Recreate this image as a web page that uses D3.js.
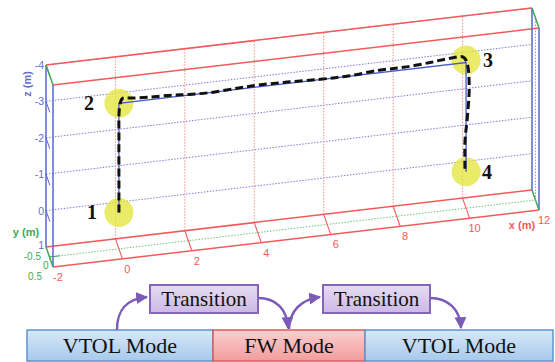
<!DOCTYPE html>
<html><head><meta charset="utf-8">
<script src="https://cdn.jsdelivr.net/npm/d3@7"></script>
<style>html,body{margin:0;padding:0;background:#fff;}svg{display:block;}</style>
</head><body>
<svg id="chart" width="555" height="362"></svg>
<script>
// ---------- data ----------
const xTicks = [-2, 0, 2, 4, 6, 8, 10, 12];
const zTicks = [-4, -3, -2, -1, 0, 1];
const yTicks = [-0.5, 0, 0.5];
const xGrid = [0, 2, 4, 6, 8, 10];
const zGrid = [-4, -3, -2, -1, 0];

// reference path (blue thin line)
const refX = [0, 0, 10, 10];
const refZ = [0, -3, -3, 0];

// measured flight path (black dashed)
const flightX = [0, 0, 0, 0.02, 0.1, 0.38, 0.9, 1.56, 2.0, 2.6, 3.4, 4.0, 4.84, 5.8, 6.6, 7.5, 8.2, 9.0, 9.54, 9.92, 10.03, 10.09, 10.03, 9.97, 9.97];
const flightZ = [0, -1, -2, -2.9, -3.12, -3.1, -3.07, -3.05, -3.02, -3.0, -3.03, -3.05, -3.04, -3.01, -3.01, -3.07, -3.07, -3.12, -3.17, -3.16, -2.98, -2.32, -1.42, -0.87, 0.02];

// waypoints
const wpLabels = ["1", "2", "3", "4"];
const wpX = [0, 0, 10, 10];
const wpZ = [0, -3, -3.07, 0];

// mode diagram
const modeLabels = ["VTOL Mode", "FW Mode", "VTOL Mode"];
const transitionLabels = ["Transition", "Transition"];

// ---------- projection via scales ----------
const xsX = d3.scaleLinear().domain([-2, 12]).range([46, 532]);
const xsY = d3.scaleLinear().domain([-2, 12]).range([0, -57]);
const zs  = d3.scaleLinear().domain([1, -4]).range([247, 65]);
const ysX = d3.scaleLinear().domain([-0.5, 0.5]).range([0, 7]);
const ysY = d3.scaleLinear().domain([-0.5, 0.5]).range([0, 20]);
const P = (x, y, z) => [xsX(x) + ysX(y), zs(z) + xsY(x) + ysY(y)];

const svg = d3.select("#chart");
const g = svg.append("g");
const line = d3.line();

const RED = "#f25a5a", BLUE = "#5a64d2", GREEN = "#3caa55";
function seg(a, b, color, w, dash) {
  g.append("path").attr("d", line([a, b])).attr("fill", "none")
    .attr("stroke", color).attr("stroke-width", w)
    .attr("stroke-dasharray", dash || null);
}

// back plane grid
zGrid.forEach(z => seg(P(-2, -0.5, z), P(12, -0.5, z), "#7d7ddb", 1, "1.5,1.5"));
xGrid.forEach(x => seg(P(x, -0.5, 1), P(x, -0.5, -4), "#f58c8c", 1, "1.5,1.5"));
// floor
seg(P(-2, 0, 1), P(12, 0, 1), "#6cc47a", 1, "1.5,1.5");
seg(P(-2, 0, 1), P(-1.7, 0, 1), GREEN, 1.2);
xGrid.forEach(x => seg(P(x, -0.5, 1), P(x, 0.5, 1), RED, 1.1));
// right wall
seg(P(12, 0, 1), P(12, 0, -4), "#6cc47a", 1, "1.5,1.5");
// left wall ticks
zTicks.slice(0, 5).forEach(z => seg(P(-2, -0.5, z), P(-2, 0.05, z), BLUE, 1));

// box edges
[[-0.5, 1], [0.5, 1], [-0.5, -4], [0.5, -4]].forEach(([y, z]) => seg(P(-2, y, z), P(12, y, z), RED, 1.5));
[[-2, -0.5], [-2, 0.5], [12, -0.5], [12, 0.5]].forEach(([x, y]) => seg(P(x, y, 1), P(x, y, -4), BLUE, 1.5));
[[-2, 1], [-2, -4], [12, -4], [12, 1]].forEach(([x, z]) => seg(P(x, -0.5, z), P(x, 0.5, z), GREEN, 1.5));

// axis tick labels
const fontSans = "'Liberation Sans', Arial, sans-serif";
zTicks.forEach(z => {
  const p = P(-2, -0.5, z);
  g.append("text").attr("x", p[0] - 2).attr("y", p[1] + (z === 1 ? 2 : 4)).attr("text-anchor", "end")
    .attr("font-family", fontSans).attr("font-size", 10.5).attr("fill", "#5f6fd0").text(z);
});
// y labels staggered (end, start, end) like the reference cluster
const yLblX = [41, 43, 42];
const yLblAnchor = ["end", "start", "end"];
const yLblDy = [13, 11.5, 12.5];
yTicks.forEach((y, i) => {
  const p = P(-2, y, 1);
  g.append("text").attr("x", yLblX[i]).attr("y", p[1] + yLblDy[i]).attr("text-anchor", yLblAnchor[i])
    .attr("font-family", fontSans).attr("font-size", 10).attr("fill", GREEN).text(y);
});
xTicks.forEach(x => {
  const p = P(x, 0.5, 1);
  g.append("text").attr("x", p[0] + 5).attr("y", p[1] + 14).attr("text-anchor", "middle")
    .attr("font-family", fontSans).attr("font-size", 11).attr("fill", RED).text(x);
});
g.append("text").attr("x", 522).attr("y", 229).attr("text-anchor", "middle")
  .attr("font-family", fontSans).attr("font-size", 11).attr("font-weight", "bold").attr("fill", RED).text("x (m)");
g.append("text").attr("x", 26).attr("y", 236).attr("text-anchor", "middle")
  .attr("font-family", fontSans).attr("font-size", 11).attr("font-weight", "bold").attr("fill", GREEN).text("y (m)");
g.append("text").attr("transform", "translate(31,84) rotate(-90)").attr("text-anchor", "middle")
  .attr("font-family", fontSans).attr("font-size", 11).attr("font-weight", "bold").attr("fill", "#5f6fd0").text("z (m)");

// waypoint circles
wpX.forEach((x, i) => {
  const p = P(x, 0, wpZ[i]);
  g.append("circle").attr("cx", p[0]).attr("cy", p[1]).attr("r", 14.5)
    .attr("fill", "#e6e640").attr("fill-opacity", 0.78);
});

// reference path
g.append("path").attr("d", line(refX.map((x, i) => P(x, 0, refZ[i]))))
  .attr("fill", "none").attr("stroke", "#4a58d0").attr("stroke-width", 1.3);
// flight path
g.append("path").attr("d", d3.line().curve(d3.curveCatmullRom)(flightX.map((x, i) => P(x, 0, flightZ[i]))))
  .attr("fill", "none").attr("stroke", "#111").attr("stroke-width", 3).attr("stroke-dasharray", "8,4");

// waypoint labels
const lblOff = [-27, -30, 22, 21];
wpX.forEach((x, i) => {
  const p = P(x, 0, wpZ[i]);
  g.append("text").attr("x", p[0] + lblOff[i]).attr("y", p[1] + 7).attr("text-anchor", "middle")
    .attr("font-family", "'Liberation Serif', 'Times New Roman', serif").attr("font-size", 20)
    .attr("font-weight", "bold").attr("fill", "#111").text(wpLabels[i]);
});

// ---------- mode diagram ----------
const defs = svg.append("defs");
function grad(id, c1, c2) {
  const lg = defs.append("linearGradient").attr("id", id).attr("x1", 0).attr("y1", 0).attr("x2", 0).attr("y2", 1);
  lg.append("stop").attr("offset", "0%").attr("stop-color", c1);
  lg.append("stop").attr("offset", "100%").attr("stop-color", c2);
}
grad("gBlue", "#d9e8f7", "#a6c9ec");
grad("gRed", "#fbd0d0", "#f29c9c");
grad("gPur", "#e6dcf3", "#cbb9e4");
defs.append("marker").attr("id", "arr").attr("viewBox", "0 0 10 10").attr("refX", 9).attr("refY", 5)
  .attr("markerWidth", 5).attr("markerHeight", 5).attr("orient", "auto").attr("markerUnits", "strokeWidth")
  .append("path").attr("d", "M0,0 L10,5 L0,10 Z").attr("fill", "#7b5bb8");

const serif = "'Liberation Serif', 'Times New Roman', serif";
const modeBoxes = [[27, 213, "url(#gBlue)", "#5b95d3"], [213, 365, "url(#gRed)", "#e05a5a"], [365, 553, "url(#gBlue)", "#5b95d3"]];
modeBoxes.forEach((b, i) => {
  svg.append("rect").attr("x", b[0]).attr("y", 330).attr("width", b[1] - b[0]).attr("height", 31)
    .attr("fill", b[2]).attr("stroke", b[3]).attr("stroke-width", 1.5);
  svg.append("text").attr("x", (b[0] + b[1]) / 2).attr("y", 353).attr("text-anchor", "middle")
    .attr("font-family", serif).attr("font-size", 22).attr("fill", "#111").text(modeLabels[i]);
});
const trBoxes = [[150, 258], [323, 430]];
trBoxes.forEach((b, i) => {
  svg.append("rect").attr("x", b[0]).attr("y", 285).attr("width", b[1] - b[0]).attr("height", 28)
    .attr("fill", "url(#gPur)").attr("stroke", "#8565b8").attr("stroke-width", 2);
  svg.append("text").attr("x", (b[0] + b[1]) / 2).attr("y", 306).attr("text-anchor", "middle")
    .attr("font-family", serif).attr("font-size", 21).attr("fill", "#111").text(transitionLabels[i]);
});
const arrows = [
  "M117,330 C117,310 126,299 147,297",
  "M258,298 C276,298 287,309 288,328",
  "M289,329 C290,312 299,300 320,297",
  "M430,298 C448,298 460,309 461,328"
];
arrows.forEach(d => svg.append("path").attr("d", d).attr("fill", "none")
  .attr("stroke", "#7b5bb8").attr("stroke-width", 2.4).attr("marker-end", "url(#arr)"));
</script>
</body></html>
